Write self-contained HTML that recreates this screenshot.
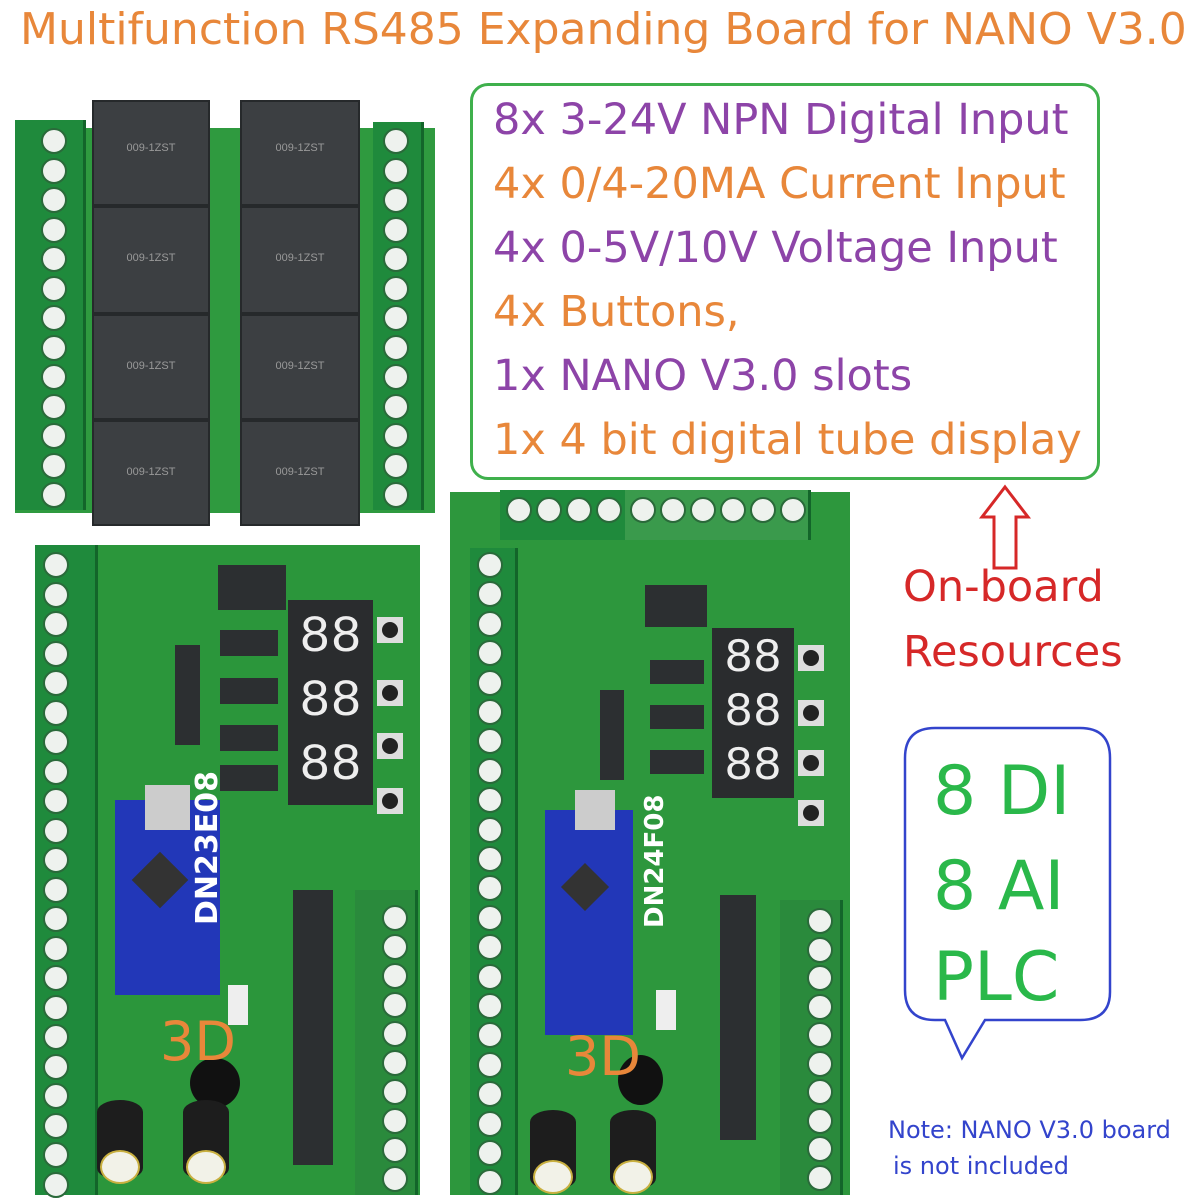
<!DOCTYPE html>
<html><head><meta charset="utf-8"><style>
body{margin:0;width:1200px;height:1200px;background:#fff;position:relative;overflow:hidden;font-family:"Liberation Sans","DejaVu Sans",sans-serif}
.a{position:absolute}
.pcb{position:absolute;background:#2e9a3e}
.term{position:absolute;background:#1f8a3c;border-right:3px solid #13652a}
.scr{position:absolute;width:26px;height:26px;border-radius:50%;background:#eef2ee;border:2px solid #2a6a3a;box-sizing:border-box}
.relay{position:absolute;background:#3c3f42;border:2px solid #26292b;box-sizing:border-box;color:#999;font-size:11px;text-align:center}
.chip{position:absolute;background:#2c2f31}
.disp{position:absolute;background:#2a2c2e;color:#eee;font-family:"Liberation Mono",monospace;overflow:hidden;text-align:center}
.nano{position:absolute;background:#2237b8}
.t{position:absolute;white-space:nowrap;font-family:"DejaVu Sans","Liberation Sans",sans-serif}
.key{position:absolute;width:26px;height:26px;background:#ddd}
.key:after{content:"";position:absolute;left:5px;top:5px;width:16px;height:16px;border-radius:50%;background:#222}
.cap{position:absolute;width:46px;height:80px;border-radius:23px/12px;background:#1d1d1d}
.cap:after{content:"";position:absolute;left:3px;bottom:-4px;width:40px;height:34px;border-radius:50%;background:#f2f2e8;border:2px solid #c9b040;box-sizing:border-box}
</style></head><body>
<div class="t" style="left:20px;top:4px;font-size:44px;color:#e8873a;">Multifunction RS485 Expanding Board for NANO V3.0</div>

<div class="pcb" style="left:15px;top:128px;width:420px;height:385px;background:#2f9a3f"></div>
<div class="term" style="left:15px;top:120px;width:68px;height:390px"></div>
<div class="term" style="left:373px;top:122px;width:48px;height:388px"></div>
<div class="relay" style="left:92px;top:100px;width:118px;height:106px;padding-top:40px">009-1ZST</div>
<div class="relay" style="left:240px;top:100px;width:120px;height:106px;padding-top:40px">009-1ZST</div>
<div class="relay" style="left:92px;top:206px;width:118px;height:108px;padding-top:44px">009-1ZST</div>
<div class="relay" style="left:240px;top:206px;width:120px;height:108px;padding-top:44px">009-1ZST</div>
<div class="relay" style="left:92px;top:314px;width:118px;height:106px;padding-top:44px">009-1ZST</div>
<div class="relay" style="left:240px;top:314px;width:120px;height:106px;padding-top:44px">009-1ZST</div>
<div class="relay" style="left:92px;top:420px;width:118px;height:106px;padding-top:44px">009-1ZST</div>
<div class="relay" style="left:240px;top:420px;width:120px;height:106px;padding-top:44px">009-1ZST</div>

<div class="pcb" style="left:35px;top:545px;width:385px;height:650px;background:#2b963b"></div>
<div class="term" style="left:35px;top:545px;width:60px;height:650px"></div>
<div class="term" style="left:355px;top:890px;width:60px;height:305px;background:#2a8a3c"></div>
<div class="chip" style="left:218px;top:565px;width:68px;height:45px"></div>
<div class="chip" style="left:220px;top:630px;width:58px;height:26px"></div>
<div class="chip" style="left:220px;top:678px;width:58px;height:26px"></div>
<div class="chip" style="left:220px;top:725px;width:58px;height:26px"></div>
<div class="chip" style="left:220px;top:765px;width:58px;height:26px"></div>
<div class="chip" style="left:175px;top:645px;width:25px;height:100px"></div>
<div class="disp" style="left:288px;top:600px;width:85px;height:205px;font-size:52px;line-height:64px;padding-top:6px;box-sizing:border-box">88<br>88<br>88</div>
<div class="key" style="left:377px;top:617px"></div><div class="key" style="left:377px;top:680px"></div><div class="key" style="left:377px;top:733px"></div><div class="key" style="left:377px;top:788px"></div>
<div class="nano" style="left:115px;top:800px;width:105px;height:195px"></div>
<div class="a" style="left:145px;top:785px;width:45px;height:45px;background:#ccc"></div>
<div class="a" style="left:140px;top:860px;width:40px;height:40px;background:#333;transform:rotate(45deg)"></div>
<div class="t" style="left:190px;font-size:30px;color:#fff;font-weight:bold;transform:rotate(-90deg);transform-origin:left top;top:925px;">DN23E08</div>
<div class="chip" style="left:293px;top:890px;width:40px;height:275px"></div>
<div class="a" style="left:228px;top:985px;width:20px;height:40px;background:#eee"></div>
<div class="a" style="left:190px;top:1058px;width:50px;height:50px;border-radius:50%;background:#111"></div>
<div class="cap" style="left:97px;top:1100px"></div><div class="cap" style="left:183px;top:1100px"></div>
<div class="t" style="left:160px;top:1010px;font-size:54px;color:#e8873a">3D</div>

<div class="pcb" style="left:450px;top:492px;width:400px;height:703px;background:#2d973d"></div>
<div class="term" style="left:500px;top:490px;width:125px;height:50px"></div>
<div class="term" style="left:625px;top:490px;width:183px;height:50px;background:#3a9a4c"></div>
<div class="term" style="left:470px;top:548px;width:45px;height:647px"></div>
<div class="term" style="left:780px;top:900px;width:60px;height:295px;background:#2a8a3c"></div>
<div class="chip" style="left:645px;top:585px;width:62px;height:42px"></div>
<div class="chip" style="left:650px;top:660px;width:54px;height:24px"></div>
<div class="chip" style="left:650px;top:705px;width:54px;height:24px"></div>
<div class="chip" style="left:650px;top:750px;width:54px;height:24px"></div>
<div class="chip" style="left:600px;top:690px;width:24px;height:90px"></div>
<div class="disp" style="left:712px;top:628px;width:82px;height:170px;font-size:48px;line-height:54px;padding-top:4px;box-sizing:border-box">88<br>88<br>88</div>
<div class="key" style="left:798px;top:645px"></div><div class="key" style="left:798px;top:700px"></div><div class="key" style="left:798px;top:750px"></div><div class="key" style="left:798px;top:800px"></div>
<div class="nano" style="left:545px;top:810px;width:88px;height:225px"></div>
<div class="a" style="left:575px;top:790px;width:40px;height:40px;background:#ccc"></div>
<div class="a" style="left:568px;top:870px;width:34px;height:34px;background:#333;transform:rotate(45deg)"></div>
<div class="t" style="left:640px;top:928px;font-size:26px;color:#fff;font-weight:bold;transform:rotate(-90deg);transform-origin:left top;">DN24F08</div>
<div class="chip" style="left:720px;top:895px;width:36px;height:245px"></div>
<div class="a" style="left:656px;top:990px;width:20px;height:40px;background:#eee"></div>
<div class="a" style="left:618px;top:1055px;width:45px;height:50px;border-radius:50%;background:#111"></div>
<div class="cap" style="left:530px;top:1110px"></div><div class="cap" style="left:610px;top:1110px"></div>
<div class="t" style="left:565px;top:1025px;font-size:54px;color:#e8873a">3D</div>

<div id="scr"></div>

<div class="a" style="left:470px;top:83px;width:630px;height:397px;border:3px solid #3fb04c;border-radius:18px;box-sizing:border-box;background:#fff"></div>
<div class="t" style="left:493px;top:95px;font-size:43px;color:#8d44a8">8x 3-24V NPN Digital Input</div>
<div class="t" style="left:493px;top:159px;font-size:43px;color:#e8873a">4x 0/4-20MA Current Input</div>
<div class="t" style="left:493px;top:223px;font-size:43px;color:#8d44a8">4x 0-5V/10V Voltage Input</div>
<div class="t" style="left:493px;top:287px;font-size:43px;color:#e8873a">4x Buttons,</div>
<div class="t" style="left:493px;top:351px;font-size:43px;color:#8d44a8">1x NANO V3.0 slots</div>
<div class="t" style="left:493px;top:415px;font-size:43px;color:#e8873a">1x 4 bit digital tube display</div>

<svg class="a" style="left:0;top:0" width="1200" height="1200">
<path d="M1005 487 L1028 517 L1016 517 L1016 568 L994 568 L994 517 L982 517 Z" fill="#fff" stroke="#d62828" stroke-width="3"/>
<path d="M945 728 L1080 728 Q1110 728 1110 758 L1110 992 Q1110 1020 1080 1020 L985 1020 L962 1058 L945 1020 L935 1020 Q905 1020 905 990 L905 758 Q905 728 935 728 Z" fill="#fff" stroke="#3344cc" stroke-width="2.5"/>
</svg>
<div class="t" style="left:903px;top:562px;font-size:43px;color:#d62828">On-board</div>
<div class="t" style="left:903px;top:627px;font-size:43px;color:#d62828">Resources</div>
<div class="t" style="left:933px;top:752px;font-size:68px;color:#2ab84a">8 DI</div>
<div class="t" style="left:933px;top:847px;font-size:68px;color:#2ab84a">8 AI</div>
<div class="t" style="left:933px;top:938px;font-size:68px;color:#2ab84a">PLC</div>
<div class="t" style="left:888px;top:1116px;font-size:24px;color:#3344cc">Note: NANO V3.0 board</div>
<div class="t" style="left:893px;top:1152px;font-size:24px;color:#3344cc">is not included</div>

<script>
var h='';
function col(x,y0,n,dy){for(var i=0;i<n;i++)h+='<div class="scr" style="left:'+x+'px;top:'+(y0+i*dy)+'px"></div>';}
col(41,128,13,29.5);col(383,128,13,29.5);
col(43,552,22,29.5);col(382,905,10,29);
col(477,552,22,29.4);col(807,908,10,28.5);
for(var i=0;i<4;i++)h+='<div class="scr" style="left:'+(506+i*30)+'px;top:497px"></div>';
for(var i=0;i<6;i++)h+='<div class="scr" style="left:'+(630+i*30)+'px;top:497px"></div>';
document.getElementById('scr').innerHTML=h;
</script>
</body></html>
